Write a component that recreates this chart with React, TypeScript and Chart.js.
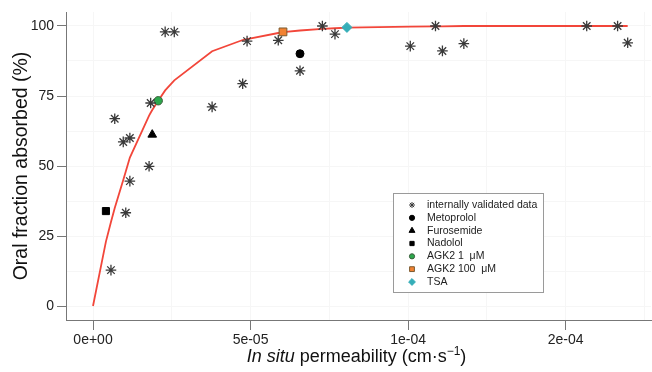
import React, { useEffect, useRef } from "react";
import { Chart, registerables } from "chart.js";
import { drawPoint } from "chart.js/helpers";

Chart.register(...registerables);

// x positions along the (non-uniform) permeability axis, in axis units (tick 0,5,10,15)
const xTickPositions = [0, 5, 10, 15];
const xTickLabels = ["0e+00", "5e-05", "1e-04", "2e-04"];
const yTickValues = [0, 25, 50, 75, 100];

const internalX = [0.57, 0.69, 0.96, 1.04, 1.17, 1.17, 1.78, 1.83, 2.29, 2.58, 3.78, 4.75, 4.89, 5.88, 6.57, 7.28, 7.68, 10.07, 10.87, 11.09, 11.77, 15.67, 16.65, 16.97];
const internalY = [12.8, 66.9, 58.6, 33.3, 60.0, 44.6, 49.9, 72.5, 97.9, 97.9, 71.1, 79.4, 94.6, 94.9, 84.0, 100, 97.1, 92.8, 100, 91.1, 93.7, 100, 100, 94.0];

const metoprolol = [6.57, 90.1];
const furosemide = [1.88, 61.2];
const nadolol = [0.41, 33.9];
const agk2Low = [2.07, 73.3];
const agk2High = [6.03, 97.9];
const tsa = [8.06, 99.5];

const curveX = [0, 0.41, 0.57, 0.69, 0.96, 1.04, 1.17, 1.78, 1.83, 1.88, 2.07, 2.29, 2.58, 3.78, 4.75, 4.89, 5.88, 6.03, 6.57, 7.28, 7.68, 8.06, 10.07, 10.87, 11.09, 11.77, 15.67, 16.65, 16.97];
const curveY = [0, 23, 30, 35, 45, 48, 53, 68, 69, 70, 73.3, 77, 80.6, 91, 95, 95.3, 97.5, 97.8, 98.4, 99, 99.2, 99.4, 99.8, 99.9, 99.9, 100, 100, 100, 100];

const FONT = 'Arial, "Liberation Sans", sans-serif';

const legendPlugin = {
  id: "boxLegend",
  afterDatasetsDraw(chart: any) {
    const ctx = chart.ctx;
    const left = 393, top = 193, w = 150, h = 99;
    ctx.save();
    ctx.fillStyle = "#ffffff";
    ctx.fillRect(left, top, w, h);
    ctx.strokeStyle = "#9a9a9a";
    ctx.lineWidth = 1;
    ctx.strokeRect(left + 0.5, top + 0.5, w, h);
    const sizes = [3, 2.6, 3.4, 3, 2.6, 3.4, 3.4];
    for (let i = 0; i < 7; i++) {
      const ds = chart.data.datasets[i];
      const y = top + 12 + i * 12.83;
      ctx.fillStyle = ds.pointBackgroundColor;
      ctx.strokeStyle = ds.pointBorderColor;
      ctx.lineWidth = 1;
      drawPoint(ctx, { pointStyle: ds.pointStyle, radius: sizes[i], borderWidth: 1, rotation: 0 }, left + 19, y);
      ctx.fillStyle = "#222";
      ctx.font = `10.5px ${FONT}`;
      ctx.textBaseline = "middle";
      ctx.textAlign = "left";
      ctx.fillText(ds.label, left + 34, y);
    }
    ctx.restore();
  },
  afterDraw(chart: any) {
    const ctx = chart.ctx;
    const ca = chart.chartArea;
    const parts = [
      { t: "In situ", f: `italic 18px ${FONT}`, dy: 0 },
      { t: " permeability (cm\u00B7s", f: `18px ${FONT}`, dy: 0 },
      { t: "\u22121", f: `12px ${FONT}`, dy: -7 },
      { t: ")", f: `18px ${FONT}`, dy: 0 },
    ];
    ctx.save();
    let total = 0;
    for (const p of parts) {
      ctx.font = p.f;
      total += ctx.measureText(p.t).width;
    }
    let x = (ca.left + ca.right) / 2 - total / 2 - 2;
    const base = 362;
    ctx.fillStyle = "#111";
    ctx.textBaseline = "alphabetic";
    ctx.textAlign = "left";
    for (const p of parts) {
      ctx.font = p.f;
      ctx.fillText(p.t, x, base + p.dy);
      x += ctx.measureText(p.t).width;
    }
    ctx.restore();
  },
};

function pts(xs: number[], ys: number[]) {
  return xs.map((x, i) => ({ x, y: ys[i] }));
}

export default function App() {
  const ref = useRef<HTMLCanvasElement | null>(null);
  useEffect(() => {
    if (!ref.current) return;
    const marker = (label: string, p: number[], style: string, r: number, bg: string, bd: string, bw = 1) => ({
      type: "scatter" as const,
      label,
      data: [{ x: p[0], y: p[1] }],
      pointStyle: style,
      pointRadius: r,
      pointBackgroundColor: bg,
      pointBorderColor: bd,
      pointBorderWidth: bw,
      showLine: false,
    });
    const chart = new Chart(ref.current, {
      type: "scatter",
      data: {
        datasets: [
          {
            type: "scatter",
            label: "internally validated data",
            data: pts(internalX, internalY),
            pointStyle: "star",
            pointRadius: 5.3,
            pointBackgroundColor: "#3a3a3a",
            pointBorderColor: "#3a3a3a",
            pointBorderWidth: 1.3,
            showLine: false,
          } as any,
          marker("Metoprolol", metoprolol, "circle", 4, "#000", "#000"),
          marker("Furosemide", furosemide, "triangle", 5, "#000", "#000"),
          marker("Nadolol", nadolol, "rect", 5, "#000", "#000"),
          marker("AGK2 1  \u03BCM", agk2Low, "circle", 4.2, "#2ca84c", "#3d5e3d"),
          marker("AGK2 100  \u03BCM", agk2High, "rect", 5.5, "#f28232", "#7a5a30"),
          marker("TSA", tsa, "rectRot", 5, "#35aeb8", "#35aeb8"),
          {
            type: "line",
            label: "fit",
            data: pts(curveX, curveY),
            borderColor: "#f2463a",
            borderWidth: 1.8,
            pointRadius: 0,
            showLine: true,
            fill: false,
            tension: 0,
            order: 10,
          } as any,
        ],
      },
      options: {
        responsive: false,
        animation: false,
        layout: { autoPadding: false, padding: { top: 12, right: 1, left: 0, bottom: 0 } },
        plugins: { legend: { display: false }, tooltip: { enabled: false } },
        scales: {
          x: {
            type: "linear",
            position: "bottom",
            min: -0.857,
            max: 17.71,
            afterBuildTicks: (s: any) => {
              s.ticks = xTickPositions.map((v) => ({ value: v }));
            },
            afterFit: (s: any) => {
              s.height = 52;
            },
            ticks: {
              callback: (v: any) => {
                const i = xTickPositions.indexOf(Number(v));
                return i >= 0 ? xTickLabels[i] : "";
              },
              font: { family: FONT, size: 14 },
              color: "#222",
              padding: 2,
              maxRotation: 0,
              autoSkip: false,
            },
            grid: { drawOnChartArea: false, drawTicks: true, tickLength: 10, color: "#777", lineWidth: 1 },
            border: { display: true, color: "#777", width: 1 },
          },
          xg: {
            type: "linear",
            position: "bottom",
            min: -0.857,
            max: 17.71,
            afterBuildTicks: (s: any) => {
              const t = [];
              for (let v = 0; v <= 17.5; v += 2.5) t.push({ value: v });
              s.ticks = t;
            },
            afterFit: (s: any) => {
              s.height = 0;
            },
            ticks: { display: false },
            grid: { drawOnChartArea: true, drawTicks: false, color: "#f6f6f6", lineWidth: 1 },
            border: { display: false },
          },
          y: {
            type: "linear",
            position: "left",
            min: -5,
            max: 105,
            afterBuildTicks: (s: any) => {
              s.ticks = yTickValues.map((v) => ({ value: v }));
            },
            afterFit: (s: any) => {
              s.width = 66;
            },
            ticks: {
              font: { family: FONT, size: 14 },
              color: "#222",
              padding: 3,
            },
            title: {
              display: true,
              text: "Oral fraction absorbed (%)",
              font: { family: FONT, size: 19.5 },
              color: "#111",
              padding: { top: 10, bottom: 0 },
            },
            grid: { drawOnChartArea: false, drawTicks: true, tickLength: 9, color: "#777", lineWidth: 1 },
            border: { display: true, color: "#777", width: 1 },
          },
          yg: {
            type: "linear",
            position: "left",
            min: -5,
            max: 105,
            afterBuildTicks: (s: any) => {
              const t = [];
              for (let v = 0; v <= 100; v += 12.5) t.push({ value: v });
              s.ticks = t;
            },
            afterFit: (s: any) => {
              s.width = 0;
            },
            ticks: { display: false },
            grid: { drawOnChartArea: true, drawTicks: false, color: "#f6f6f6", lineWidth: 1 },
            border: { display: false },
          },
        },
      } as any,
      plugins: [legendPlugin],
    });
    return () => chart.destroy();
  }, []);
  return (
    <div style={{ position: "fixed", left: 0, top: 0, width: 652, height: 372, background: "#fff" }}>
      <canvas ref={ref} width={652} height={372} style={{ width: 652, height: 372, display: "block" }} />
    </div>
  );
}
